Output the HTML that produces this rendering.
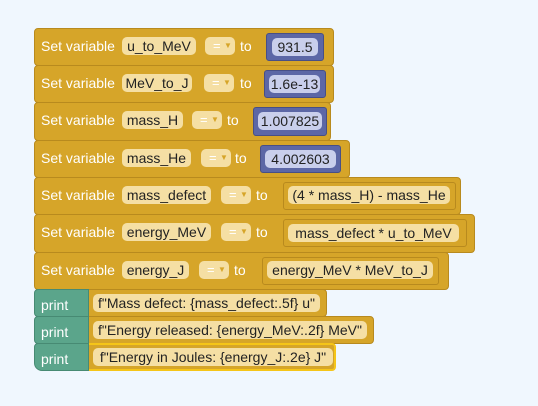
<!DOCTYPE html>
<html><head><meta charset="utf-8"><style>
body{margin:0;width:538px;height:406px;background:#f0f7fe;position:relative;overflow:hidden;font-family:"Liberation Sans",Arial,sans-serif;font-size:14px}
.b{position:absolute;background:#d6a529;border:1px solid #b88a1e;border-radius:4px;box-sizing:border-box}
.t{position:absolute;color:#fff;line-height:16px}
.f{position:absolute;background:#f5dfa4;color:#222;border-radius:5px;height:18px;line-height:18px;text-align:center;box-sizing:border-box;white-space:nowrap}
.eq{position:absolute;background:#f5dfa4;color:#fff;border-radius:5px;height:18px;line-height:18px;width:30px;font-size:13px}
.eq span{position:absolute;left:8px}
.eq i{position:absolute;left:19px;top:0;font-style:normal;font-size:8px;color:#d6a529}
.nb{position:absolute;background:#5c67a6;border:1px solid #474f86;border-radius:3px;box-sizing:border-box}
.np{position:absolute;background:#c9cfec;color:#222;border-radius:5px;text-align:center;line-height:18px;height:18px;white-space:nowrap}
.vb{position:absolute;background:#d6a529;border:1px solid #b88a1e;border-radius:3px;box-sizing:border-box}
.p{position:absolute;background:#5ba58b;border:1px solid #478a73;border-radius:4px 0 0 4px;box-sizing:border-box}
</style></head><body>

<div class="b" style="left:34px;top:28px;width:300px;height:38px"></div>
<div class="b" style="left:34px;top:65px;width:300px;height:38px"></div>
<div class="b" style="left:34px;top:102px;width:297px;height:39px"></div>
<div class="b" style="left:34px;top:140px;width:316px;height:38px"></div>
<div class="b" style="left:34px;top:177px;width:427px;height:38px"></div>
<div class="b" style="left:34px;top:214px;width:441px;height:39px"></div>
<div class="b" style="left:34px;top:252px;width:415px;height:38px"></div>

<div class="t" style="left:41px;top:38px">Set variable</div>
<div class="f" style="left:122px;top:37px;width:74px">u_to_MeV</div>
<div class="eq" style="left:205px;top:37px"><span>=</span><i>▼</i></div>
<div class="t" style="left:240px;top:38px">to</div>
<div class="nb" style="left:266px;top:33px;width:58px;height:28px"></div>
<div class="np" style="left:272px;top:38px;width:46px">931.5</div>

<div class="t" style="left:41px;top:75px">Set variable</div>
<div class="f" style="left:122px;top:74px;width:70px">MeV_to_J</div>
<div class="eq" style="left:204px;top:74px"><span>=</span><i>▼</i></div>
<div class="t" style="left:240px;top:75px">to</div>
<div class="nb" style="left:264px;top:70px;width:62px;height:28px"></div>
<div class="np" style="left:269px;top:75px;width:51px">1.6e-13</div>

<div class="t" style="left:41px;top:112px">Set variable</div>
<div class="f" style="left:122px;top:111px;width:61px">mass_H</div>
<div class="eq" style="left:192px;top:111px"><span>=</span><i>▼</i></div>
<div class="t" style="left:227px;top:112px">to</div>
<div class="nb" style="left:253px;top:107px;width:74px;height:29px"></div>
<div class="np" style="left:258px;top:112px;width:64px">1.007825</div>

<div class="t" style="left:41px;top:150px">Set variable</div>
<div class="f" style="left:122px;top:149px;width:69px">mass_He</div>
<div class="eq" style="left:201px;top:149px"><span>=</span><i>▼</i></div>
<div class="t" style="left:235px;top:150px">to</div>
<div class="nb" style="left:260px;top:145px;width:81px;height:28px"></div>
<div class="np" style="left:265px;top:150px;width:71px">4.002603</div>

<div class="t" style="left:41px;top:187px">Set variable</div>
<div class="f" style="left:122px;top:186px;width:89px">mass_defect</div>
<div class="eq" style="left:221px;top:186px"><span>=</span><i>▼</i></div>
<div class="t" style="left:256px;top:187px">to</div>
<div class="vb" style="left:283px;top:182px;width:173px;height:28px"></div>
<div class="f" style="left:288px;top:186px;width:162px">(4 * mass_H) - mass_He</div>

<div class="t" style="left:41px;top:224px">Set variable</div>
<div class="f" style="left:122px;top:223px;width:89px">energy_MeV</div>
<div class="eq" style="left:221px;top:223px"><span>=</span><i>▼</i></div>
<div class="t" style="left:256px;top:224px">to</div>
<div class="vb" style="left:283px;top:219px;width:184px;height:28px"></div>
<div class="f" style="left:288px;top:224px;width:171px">mass_defect * u_to_MeV</div>

<div class="t" style="left:41px;top:262px">Set variable</div>
<div class="f" style="left:122px;top:261px;width:67px">energy_J</div>
<div class="eq" style="left:199px;top:261px"><span>=</span><i>▼</i></div>
<div class="t" style="left:234px;top:262px">to</div>
<div class="vb" style="left:262px;top:257px;width:177px;height:28px"></div>
<div class="f" style="left:267px;top:261px;width:166px">energy_MeV * MeV_to_J</div>

<div class="b" style="left:84px;top:289px;width:243px;height:28px;border-radius:0 4px 4px 0"></div>
<div class="b" style="left:84px;top:316px;width:290px;height:28px;border-radius:0 4px 4px 0"></div>
<div class="b" style="left:84px;top:343px;width:252px;height:28px;border:2px solid #f5c518;border-radius:0 4px 4px 0"></div>
<div class="p" style="left:34px;top:289px;width:55px;height:28px"></div>
<div class="p" style="left:34px;top:316px;width:55px;height:28px"></div>
<div class="p" style="left:34px;top:343px;width:55px;height:28px;border-radius:4px 0 0 8px"></div>
<div class="t" style="left:41px;top:297px">print</div>
<div class="t" style="left:41px;top:324px">print</div>
<div class="t" style="left:41px;top:351px">print</div>
<div class="f" style="left:93px;top:294px;width:227px">f"Mass defect: {mass_defect:.5f} u"</div>
<div class="f" style="left:93px;top:321px;width:274px">f"Energy released: {energy_MeV:.2f} MeV"</div>
<div class="f" style="left:93px;top:348px;width:240px">f"Energy in Joules: {energy_J:.2e} J"</div>
</body></html>
